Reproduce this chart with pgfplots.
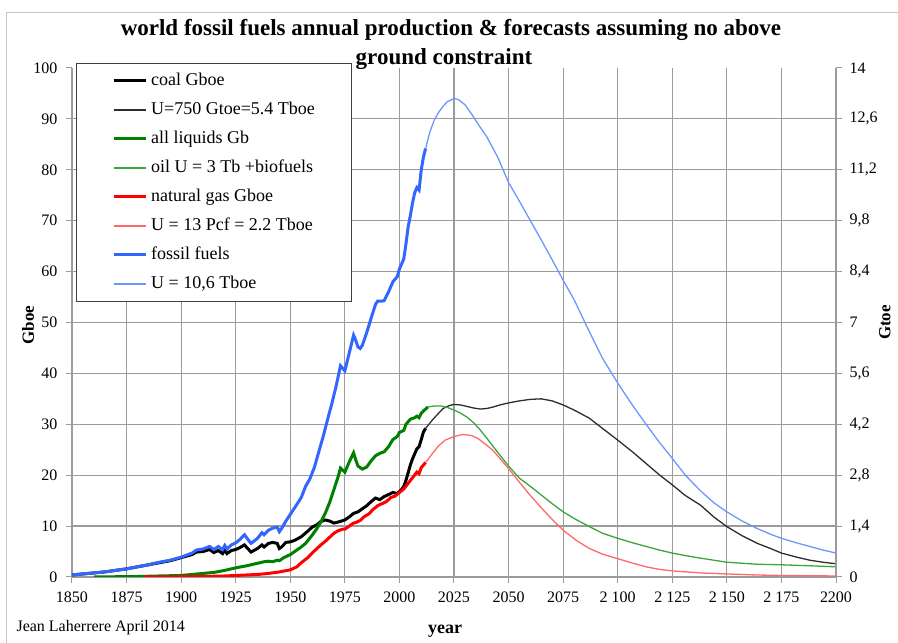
\documentclass[border=0pt]{standalone}
\usepackage{pgfplots}
\pgfplotsset{compat=1.18}
\usepackage{fontspec}
\setmainfont{Liberation Serif}

\definecolor{gridgray}{RGB}{155,155,155}
\definecolor{fblue}{RGB}{51,102,255}
\definecolor{fbluel}{RGB}{110,150,255}
\definecolor{fgreen}{RGB}{0,128,0}
\definecolor{fgreenl}{RGB}{60,165,60}
\definecolor{fred}{RGB}{255,0,0}
\definecolor{fredl}{RGB}{255,105,105}
\definecolor{fblackl}{RGB}{45,45,45}

\begin{document}
\begin{tikzpicture}
\useasboundingbox (-72pt,-66pt) rectangle (826pt,577pt);
\draw[gray!45, line width=1pt] (-65pt,-66pt) -- (-65pt,564pt) -- (826pt,564pt);

\begin{axis}[
  scale only axis, width=764pt, height=509pt,
  xmin=1850, xmax=2200, ymin=0, ymax=100,
  axis x line*=bottom, axis y line*=left,
  xtick={1850,1875,...,2200},
  xticklabels={1850,1875,1900,1925,1950,1975,2000,2025,2050,2075,{2\ 100},{2\ 125},{2\ 150},{2\ 175},2200},
  ytick={0,10,...,90},
  extra y ticks={100}, extra y tick style={grid=none},
  grid=major, grid style={gridgray, line width=1.2pt},
  axis line style={gridgray, line width=1.2pt},
  tick style={gridgray, line width=1pt},
  tick align=outside, major tick length=6pt,
  /pgf/number format/assume math mode=true,
  ticklabel style={font=\fontsize{16}{18}\selectfont},
  xticklabel style={yshift=-5pt},
  yticklabel style={xshift=-5pt},
  ylabel={\textbf{Gboe}},
  ylabel style={at={(axis description cs:-0.0576,0.495)}, anchor=center, font=\fontsize{17}{19}\selectfont},
  legend cell align=left,
  legend image code/.code={\draw[#1] (0pt,0pt) -- (32pt,0pt);},
  legend style={at={(0.005,1.0098)}, anchor=north west, draw=black!75, line width=0.8pt, fill=white,
    inner xsep=36pt, inner ysep=10pt, row sep=14pt, column sep=4pt,
    font=\fontsize{18}{21}\selectfont,
    nodes={inner sep=0pt, text height=12pt, text depth=3pt}},
]
% coal historical
\addplot[black, line width=3pt] coordinates {
(1850,0.4)(1855,0.6)(1860,0.8)(1865,1.0)(1870,1.3)(1875,1.6)(1880,2.0)(1885,2.4)(1890,2.8)(1895,3.2)
(1900,3.8)(1905,4.4)(1907,4.9)(1910,5.0)(1913,5.4)(1915,4.8)(1917,5.2)(1919,4.6)(1920,5.3)(1921,4.6)
(1923,5.2)(1925,5.4)(1927,5.8)(1929,6.3)(1932,4.9)(1935,5.6)(1937,6.3)(1938,5.9)(1940,6.6)(1942,6.8)
(1944,6.6)(1945,5.6)(1946,5.9)(1948,6.8)(1950,6.9)(1952,7.2)(1955,7.9)(1958,9.0)(1960,9.8)(1962,10.2)
(1964,10.9)(1966,11.2)(1968,11.0)(1970,10.6)(1972,10.8)(1975,11.2)(1977,11.8)(1979,12.5)(1981,12.8)
(1983,13.4)(1985,14.0)(1987,14.8)(1989,15.5)(1991,15.2)(1993,15.8)(1995,16.2)(1997,16.6)(1999,16.4)
(2001,17.2)(2002,17.8)(2003,19.0)(2004,20.5)(2005,22.0)(2006,23.2)(2007,24.2)(2008,25.2)(2009,25.6)
(2010,27.0)(2011,28.5)(2012,29.2)};
\addlegendentry{coal Gboe}
% coal forecast
\addplot[fblackl, line width=1.3pt] coordinates {
(2012,29.2)(2015,30.8)(2018,32.2)(2020,33.1)(2023,33.7)(2025,33.9)(2028,33.8)(2031,33.5)(2034,33.2)
(2037,33.0)(2040,33.1)(2043,33.4)(2046,33.8)(2050,34.2)(2055,34.6)(2060,34.9)(2065,35.0)(2070,34.6)
(2075,33.8)(2080,32.8)(2087,31.2)(2093,29.2)(2100,26.9)(2107,24.5)(2113,22.3)(2119,20.1)(2125,18.1)
(2131,16.0)(2138,14.1)(2144,11.8)(2150,9.9)(2157,8.1)(2164,6.6)(2170,5.6)(2175,4.7)(2182,3.9)
(2188,3.3)(2194,2.9)(2200,2.6)};
\addlegendentry{U=750 Gtoe=5.4 Tboe}
% liquids historical
\addplot[fgreen, line width=3pt] coordinates {
(1860,0)(1870,0.05)(1880,0.1)(1890,0.2)(1900,0.3)(1905,0.5)(1910,0.7)(1915,0.9)(1920,1.3)(1925,1.8)
(1930,2.2)(1935,2.7)(1938,3.0)(1940,3.1)(1942,3.0)(1944,3.3)(1945,3.2)(1947,3.8)(1950,4.4)(1952,5.0)
(1955,5.9)(1957,6.6)(1960,8.2)(1962,9.4)(1964,10.8)(1966,12.5)(1968,14.6)(1970,17.2)(1972,19.8)
(1973,21.4)(1974,21.0)(1975,20.6)(1977,22.6)(1979,24.4)(1980,23.0)(1981,21.8)(1983,21.2)(1985,21.6)
(1987,22.8)(1989,23.8)(1991,24.3)(1993,24.6)(1995,25.6)(1997,27.0)(1999,27.6)(2000,28.4)(2002,28.8)
(2003,30.0)(2005,31.0)(2007,31.3)(2008,31.6)(2009,31.3)(2010,32.2)(2012,33.0)(2013,33.4)};
\addlegendentry{all liquids Gb}
% liquids forecast
\addplot[fgreenl, line width=1.3pt] coordinates {
(2013,33.4)(2016,33.6)(2019,33.6)(2022,33.3)(2025,32.8)(2028,32.2)(2031,31.4)(2034,30.3)(2037,28.9)
(2040,27.3)(2043,25.6)(2047,23.4)(2050,21.8)(2055,19.4)(2060,17.8)(2065,16.1)(2070,14.4)(2075,12.8)
(2080,11.5)(2087,9.9)(2093,8.6)(2100,7.6)(2107,6.7)(2113,6.0)(2119,5.3)(2125,4.7)(2131,4.2)(2138,3.7)
(2144,3.3)(2150,2.9)(2157,2.7)(2164,2.5)(2175,2.4)(2188,2.2)(2200,2.0)};
\addlegendentry{oil U = 3 Tb +biofuels}
% gas historical
\addplot[fred, line width=3pt] coordinates {
(1883,0)(1900,0.05)(1910,0.1)(1920,0.2)(1925,0.3)(1930,0.4)(1935,0.5)(1940,0.7)(1945,1.0)(1950,1.4)
(1953,2.0)(1955,2.8)(1958,3.8)(1960,4.7)(1962,5.5)(1964,6.3)(1966,7.0)(1968,7.8)(1970,8.6)(1972,9.1)
(1974,9.4)(1975,9.4)(1977,10.0)(1979,10.6)(1980,10.7)(1982,11.1)(1984,11.9)(1986,12.4)(1988,13.3)
(1990,14.0)(1992,14.4)(1994,14.8)(1996,15.6)(1998,15.9)(2000,16.6)(2002,17.3)(2004,18.4)(2006,19.5)
(2008,20.6)(2009,20.3)(2010,21.5)(2012,22.5)};
\addlegendentry{natural gas Gboe}
% gas forecast
\addplot[fredl, line width=1.3pt] coordinates {
(2012,22.5)(2015,24.2)(2018,25.8)(2021,26.9)(2025,27.6)(2029,28.0)(2033,27.8)(2036,27.2)(2040,25.9)
(2043,24.8)(2046,23.3)(2050,21.3)(2055,18.6)(2060,16.0)(2065,13.6)(2070,11.3)(2075,9.2)(2081,7.2)
(2087,5.6)(2093,4.5)(2100,3.6)(2107,2.7)(2113,2.0)(2119,1.5)(2125,1.2)(2138,0.8)(2150,0.6)(2163,0.4)
(2175,0.3)(2188,0.25)(2200,0.2)};
\addlegendentry{U = 13 Pcf = 2.2 Tboe}
% fossil historical
\addplot[fblue, line width=3pt] coordinates {
(1850,0.4)(1855,0.6)(1860,0.8)(1865,1.0)(1870,1.3)(1875,1.6)(1880,2.0)(1885,2.4)(1890,2.9)(1895,3.3)
(1900,3.9)(1905,4.7)(1907,5.3)(1910,5.5)(1913,6.0)(1915,5.4)(1917,6.0)(1919,5.4)(1920,6.2)(1921,5.5)
(1923,6.3)(1925,6.7)(1927,7.4)(1929,8.3)(1932,6.6)(1935,7.6)(1937,8.7)(1938,8.3)(1940,9.2)(1942,9.6)
(1944,9.8)(1945,8.9)(1946,9.5)(1948,11.0)(1950,12.3)(1952,13.6)(1955,15.6)(1957,17.8)(1959,19.3)
(1961,21.5)(1963,24.5)(1965,27.5)(1967,30.8)(1969,34.0)(1971,37.5)(1973,41.5)(1974,41.0)(1975,40.5)
(1977,44.0)(1979,47.5)(1980,46.5)(1981,45.2)(1982,44.9)(1983,45.5)(1985,48.0)(1987,50.8)(1989,53.5)
(1990,54.2)(1992,54.2)(1993,54.3)(1995,56.0)(1997,58.0)(1999,59.0)(2000,60.5)(2002,62.5)(2003,65.5)
(2004,68.8)(2005,71.0)(2006,73.5)(2007,75.5)(2008,76.5)(2009,76.0)(2010,80.0)(2011,82.5)(2012,84.2)};
\addlegendentry{fossil fuels}
% fossil forecast
\addplot[fbluel, line width=1.3pt] coordinates {
(2012,84.2)(2014,87.5)(2016,89.8)(2018,91.3)(2020,92.5)(2022,93.4)(2025,94.0)(2027,93.8)(2030,92.8)
(2033,91.0)(2036,89.0)(2040,86.5)(2045,82.5)(2050,77.5)(2055,73.8)(2060,70.0)(2065,66.2)(2070,62.3)
(2075,58.3)(2080,54.5)(2087,48.2)(2093,43.0)(2100,38.1)(2107,33.6)(2113,30.0)(2119,26.5)(2125,23.3)
(2131,20.0)(2138,16.9)(2144,14.6)(2150,12.8)(2157,11.0)(2164,9.5)(2170,8.4)(2175,7.6)(2182,6.7)
(2188,6.0)(2194,5.3)(2200,4.7)};
\addlegendentry{U = 10,6 Tboe}
\end{axis}

\begin{axis}[
  scale only axis, width=764pt, height=509pt,
  xmin=1850, xmax=2200, ymin=0, ymax=14,
  axis x line=none, axis y line*=right,
  ytick={0,1.4,2.8,4.2,5.6,7,8.4,9.8,11.2,12.6,14},
  yticklabels={0,{1,4},{2,8},{4,2},{5,6},7,{8,4},{9,8},{11,2},{12,6},14},
  axis line style={gridgray, line width=1.2pt},
  tick style={gridgray, line width=1pt},
  tick align=outside, major tick length=6pt,
  ticklabel style={font=\fontsize{16}{18}\selectfont},
  yticklabel style={xshift=4pt},
  ylabel={\textbf{Gtoe}},
  ylabel style={at={(axis description cs:1.064,0.5)}, anchor=center, font=\fontsize{17}{19}\selectfont},
]
\end{axis}

\node[font=\fontsize{23}{26}\selectfont\bfseries] at (379pt,547pt) {world fossil fuels annual production \& forecasts assuming no above};
\node[font=\fontsize{23}{26}\selectfont\bfseries] at (372pt,518pt) {ground constraint};
\node[font=\fontsize{18}{20}\selectfont\bfseries] at (373pt,-54pt) {year};
\node[font=\fontsize{16}{18}\selectfont, anchor=west] at (-59pt,-51pt) {Jean Laherrere April 2014};
\end{tikzpicture}
\end{document}
